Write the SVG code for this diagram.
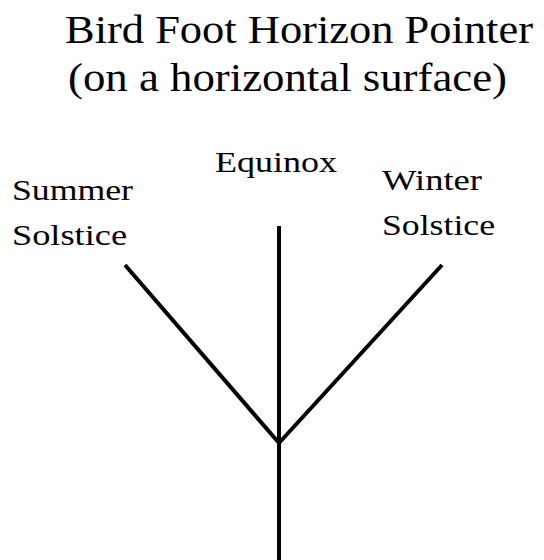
<svg xmlns="http://www.w3.org/2000/svg" width="544" height="560" viewBox="0 0 544 560">
<style>
text{font-family:'Liberation Serif','DejaVu Serif',serif;fill:#000}
.t{font-size:41px}
.l{font-size:30px}
.c{stroke:#000;stroke-width:4;fill:none;stroke-linecap:butt}
</style>
<rect width="544" height="560" fill="#fff"/>
<g id="title">
<text class="t" x="65" y="43" textLength="468" lengthAdjust="spacingAndGlyphs">Bird Foot Horizon Pointer</text>
<text class="t" x="68" y="91" textLength="439" lengthAdjust="spacingAndGlyphs">(on a horizontal surface)</text>
</g>
<g id="summer"><text class="l" x="12" y="200" textLength="121" lengthAdjust="spacingAndGlyphs">Summer</text><text class="l" x="12" y="245" textLength="115" lengthAdjust="spacingAndGlyphs">Solstice</text></g>
<g id="equinox"><text class="l" x="215" y="172" textLength="122" lengthAdjust="spacingAndGlyphs">Equinox</text></g>
<g id="winter"><text class="l" x="382" y="190" textLength="100" lengthAdjust="spacingAndGlyphs">Winter</text><text class="l" x="382" y="235" textLength="113" lengthAdjust="spacingAndGlyphs">Solstice</text></g>
<g id="connectors">
<line class="c" x1="279" y1="226" x2="279" y2="560"/>
<line class="c" x1="125" y1="265" x2="279" y2="443"/>
<line class="c" x1="442" y1="265" x2="279" y2="443"/>
</g>
</svg>
